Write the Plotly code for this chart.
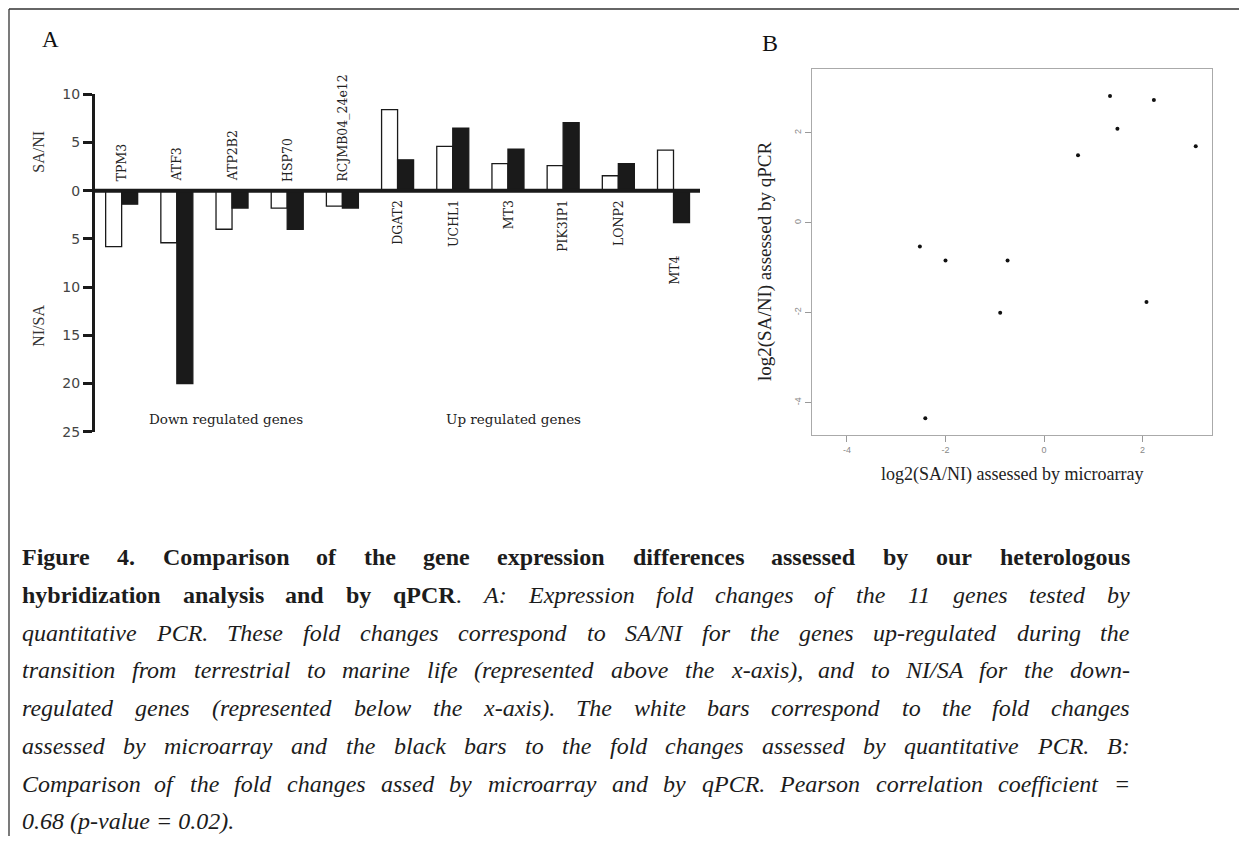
import plotly.graph_objects as go

# page is 1247x844; the default html body margin is 8px on every side,
# so the figure is 16px smaller and every page coordinate is offset by 8.
OFF = 8
W, H = 1247 - 2 * OFF, 844 - 2 * OFF

# ---------------- data ----------------
genes = ["TPM3", "ATF3", "ATP2B2", "HSP70", "RCJMB04_24e12",
         "DGAT2", "UCHL1", "MT3", "PIK3IP1", "LONP2", "MT4"]
# signed fold changes (positive = SA/NI, negative = NI/SA)
microarray_fc = [-5.8, -5.4, -4.0, -1.8, -1.6, 8.4, 4.6, 2.8, 2.6, 1.55, 4.2]
qpcr_fc = [-1.4, -20.0, -1.8, -4.0, -1.8, 3.2, 6.5, 4.3, 7.05, 2.8, -3.3]

a_tickvals = [10, 5, 0, -5, -10, -15, -20, -25]
a_ticktext = ["10", "5", "0", "5", "10", "15", "20", "25"]

# panel B: log2 values
log2_microarray = [1.34, 2.23, 1.49, 0.69, 3.08, -2.52, -2.0, -0.74, -0.89, 2.08, -2.41]
log2_qpcr = [2.82, 2.73, 2.09, 1.50, 1.70, -0.53, -0.84, -0.84, -2.0, -1.76, -4.35]
b_tickvals = [-4, -2, 0, 2]
b_ticktext = ["-4", "-2", "0", "2"]

caption_lines = [
    "{b}Figure 4. Comparison of the gene expression differences assessed by our heterologous",
    "{b}hybridization analysis and by qPCR{r}.{i} A: Expression fold changes of the 11 genes tested by",
    "{i}quantitative PCR. These fold changes correspond to SA/NI for the genes up-regulated during the",
    "{i}transition from terrestrial to marine life (represented above the x-axis), and to NI/SA for the down-",
    "{i}regulated genes (represented below the x-axis). The white bars correspond to the fold changes",
    "{i}assessed by microarray and the black bars to the fold changes assessed by quantitative PCR. B:",
    "{i}Comparison of the fold changes assed by microarray and by qPCR. Pearson correlation coefficient =",
    "{i}0.68 (p-value = 0.02).",
]


def px(x):
    return (x - OFF) / W


def py(y):
    return 1 - (y - OFF) / H


fig = go.Figure()

# ---------------- panel A ----------------
fig.add_trace(go.Bar(x=genes, y=microarray_fc, name="microarray",
                     marker=dict(color="white", line=dict(color="#1a1a1a", width=1.3)),
                     xaxis="x", yaxis="y"))
fig.add_trace(go.Bar(x=genes, y=qpcr_fc, name="qPCR",
                     marker=dict(color="#1a1a1a", line=dict(color="#1a1a1a", width=1.3)),
                     xaxis="x", yaxis="y"))

# ---------------- panel B ----------------
fig.add_trace(go.Scatter(x=log2_microarray, y=log2_qpcr, mode="markers",
                         marker=dict(color="#111", size=4),
                         xaxis="x2", yaxis="y2"))

ann = []
serif = "Liberation Serif"

# gene labels
for g, m, q in zip(genes, microarray_fc, qpcr_fc):
    if max(m, q) <= 0:
        ann.append(dict(x=g, y=0, xref="x", yref="y", text=g, showarrow=False,
                        textangle=-90, yanchor="bottom", xanchor="center", yshift=9,
                        borderpad=0, borderwidth=0,
                        font=dict(family="DejaVu Serif", size=12.5, color="#222")))
    else:
        base = min(0, m, q)
        ann.append(dict(x=g, y=base, xref="x", yref="y", text=g, showarrow=False,
                        textangle=-90, yanchor="top", xanchor="center",
                        yshift=-9 if base == 0 else -33,
                        borderpad=0, borderwidth=0,
                        font=dict(family="DejaVu Serif", size=12.5, color="#222")))

# panel texts
ann += [
    dict(x=px(50.8), y=py(39.5), text="A", font=dict(family=serif, size=23, color="#111")),
    dict(x=px(39), y=py(151.7), text="SA/NI", textangle=-90,
         font=dict(family=serif, size=16, color="#333")),
    dict(x=px(39), y=py(325.8), text="NI/SA", textangle=-90,
         font=dict(family=serif, size=16, color="#333")),
    dict(x=px(226), y=py(419), text="Down regulated genes",
         font=dict(family="DejaVu Serif", size=13.5, color="#222")),
    dict(x=px(513.3), y=py(419), text="Up regulated genes",
         font=dict(family="DejaVu Serif", size=13.5, color="#222")),
    dict(x=px(769.5), y=py(43.5), text="B", font=dict(family=serif, size=24, color="#111")),
    dict(x=px(1012), y=py(474.6), text="log2(SA/NI) assessed by microarray",
         font=dict(family=serif, size=18, color="#222")),
    dict(x=px(765), y=py(262), text="log2(SA/NI) assessed by qPCR", textangle=-90,
         font=dict(family=serif, size=19, color="#222")),
]
for a in ann[len(genes):]:
    a.update(xref="paper", yref="paper", showarrow=False, xanchor="center",
             yanchor="middle", borderpad=0, borderwidth=0)

# ---------------- caption (justified) ----------------
TR = dict(zip(" .,:-()/=0123456789", [250, 250, 250, 278, 333, 333, 333, 278, 564] + [500] * 10))
TR.update(dict(zip("abcdefghijklmnopqrstuvwxyz",
                   [444, 500, 444, 500, 444, 333, 500, 500, 278, 278, 500, 278, 778, 500,
                    500, 500, 500, 333, 389, 278, 500, 500, 722, 500, 500, 444])))
TR.update(dict(zip("ABCDEFGHIJKLMNOPQRSTUVWXYZ",
                   [722, 667, 667, 722, 611, 556, 722, 722, 333, 389, 722, 611, 889, 722,
                    722, 556, 722, 667, 556, 611, 722, 722, 944, 722, 722, 611])))
TI = dict(zip(" .,:-()/=0123456789", [250, 250, 250, 333, 333, 333, 333, 278, 675] + [500] * 10))
TI.update(dict(zip("abcdefghijklmnopqrstuvwxyz",
                   [500, 500, 444, 500, 444, 278, 500, 500, 278, 278, 444, 278, 722, 500,
                    500, 500, 500, 389, 389, 278, 500, 444, 667, 444, 444, 389])))
TI.update(dict(zip("ABCDEFGHIJKLMNOPQRSTUVWXYZ",
                   [611, 611, 667, 722, 611, 611, 722, 722, 333, 444, 667, 556, 833, 667,
                    722, 611, 722, 611, 500, 556, 722, 611, 833, 611, 556, 556])))
TB = dict(zip(" .,:-()/=0123456789", [250, 250, 250, 333, 333, 333, 333, 278, 570] + [500] * 10))
TB.update(dict(zip("abcdefghijklmnopqrstuvwxyz",
                   [500, 556, 444, 556, 444, 333, 500, 556, 278, 333, 556, 278, 833, 556,
                    500, 556, 556, 444, 389, 333, 556, 500, 722, 500, 500, 444])))
TB.update(dict(zip("ABCDEFGHIJKLMNOPQRSTUVWXYZ",
                   [722, 667, 722, 722, 667, 611, 778, 778, 389, 500, 778, 667, 944, 722,
                    778, 611, 778, 722, 556, 667, 722, 722, 1000, 722, 722, 667])))
TABLES = {"r": TR, "i": TI, "b": TB}

CAP_SIZE = 24
CAP_L, CAP_R = 22, 1130
CAP_BASE0, CAP_STEP = 565, 37.8


def parse(line):
    style = "r"
    words, cur, buf = [], [], ""
    i = 0
    while i < len(line):
        if line[i] == "{" and i + 2 < len(line) and line[i + 2] == "}":
            if buf:
                cur.append((buf, style))
                buf = ""
            style = line[i + 1]
            i += 3
            continue
        ch = line[i]
        if ch == " ":
            if buf:
                cur.append((buf, style))
                buf = ""
            if cur:
                words.append(cur)
                cur = []
        else:
            buf += ch
        i += 1
    if buf:
        cur.append((buf, style))
    if cur:
        words.append(cur)
    return words


def seg_html(segs):
    out = ""
    for t, s in segs:
        if s == "b":
            out += "<b>" + t + "</b>"
        elif s == "i":
            out += "<i>" + t + "</i>"
        else:
            out += t
    return out


def seg_width(segs):
    return sum(TABLES[s].get(c, 500) for t, s in segs for c in t) / 1000 * CAP_SIZE


cap_font = dict(family=serif, size=CAP_SIZE, color="#1c1c1c")
for li, line in enumerate(caption_lines):
    yc = CAP_BASE0 + li * CAP_STEP - 0.3375 * CAP_SIZE
    words = parse(line)
    if li == len(caption_lines) - 1:
        html = " ".join(seg_html(w) for w in words)
        ann.append(dict(x=px(CAP_L), y=py(yc), xref="paper", yref="paper", text=html,
                        showarrow=False, xanchor="left", yanchor="middle",
                        borderpad=0, borderwidth=0, font=cap_font))
        continue
    widths = [seg_width(w) for w in words]
    gap = (CAP_R - CAP_L - sum(widths)) / (len(words) - 1)
    xl = CAP_L
    for k, (w, wd) in enumerate(zip(words, widths)):
        if k == 0:
            xa, xpos = "left", CAP_L
        elif k == len(words) - 1:
            xa, xpos = "right", CAP_R
        else:
            xa, xpos = "center", xl + wd / 2
        ann.append(dict(x=px(xpos), y=py(yc), xref="paper", yref="paper", text=seg_html(w),
                        showarrow=False, xanchor=xa, yanchor="middle",
                        borderpad=0, borderwidth=0, font=cap_font))
        xl += wd + gap

# ---------------- shapes ----------------
shapes = [
    dict(type="line", xref="x domain", yref="y", x0=0, x1=1, y0=0, y1=0,
         line=dict(color="#1a1a1a", width=4), layer="above"),
    dict(type="line", xref="paper", yref="paper", x0=px(9), x1=1, y0=py(9), y1=py(9),
         line=dict(color="#666", width=2)),
    dict(type="line", xref="paper", yref="paper", x0=px(9), x1=px(9), y0=py(9), y1=0,
         line=dict(color="#333", width=1.3)),
]

fig.update_layout(
    width=W, height=H,
    margin=dict(l=0, r=0, t=0, b=0, pad=0, autoexpand=False),
    paper_bgcolor="white", plot_bgcolor="white", showlegend=False,
    barmode="group", bargap=0.42, bargroupgap=0,
    xaxis=dict(domain=[px(95), px(700)], anchor="y", range=[-0.483, 10.48],
               showticklabels=False, ticks="", showline=False, showgrid=False,
               zeroline=False, automargin=False),
    yaxis=dict(domain=[py(431.7), py(94.3)], anchor="x", range=[-25, 10],
               tickvals=a_tickvals, ticktext=a_ticktext, ticks="outside", ticklen=9,
               tickwidth=3, tickcolor="#1a1a1a", showline=True, linewidth=3,
               linecolor="#1a1a1a", showgrid=False, zeroline=False, automargin=False,
               tickfont=dict(family="DejaVu Sans", size=14, color="#444")),
    xaxis2=dict(domain=[px(812), px(1212)], anchor="y2", range=[-4.71, 3.41],
                tickvals=b_tickvals, ticktext=b_ticktext, ticks="outside", ticklen=6,
                tickcolor="#999", showline=True, mirror=True, linecolor="#aaa",
                linewidth=1.3, showgrid=False, zeroline=False, automargin=False,
                tickfont=dict(family="Liberation Sans", size=9, color="#888")),
    yaxis2=dict(domain=[py(435), py(69)], anchor="x2", range=[-4.72, 3.42],
                tickvals=b_tickvals, ticktext=b_ticktext, ticks="outside", ticklen=6,
                tickcolor="#999", showline=True, mirror=True, linecolor="#aaa",
                linewidth=1.3, showgrid=False, zeroline=False, tickangle=-90,
                automargin=False,
                tickfont=dict(family="Liberation Sans", size=9, color="#888")),
    annotations=ann,
    shapes=shapes,
)

fig.write_html("out.html")
